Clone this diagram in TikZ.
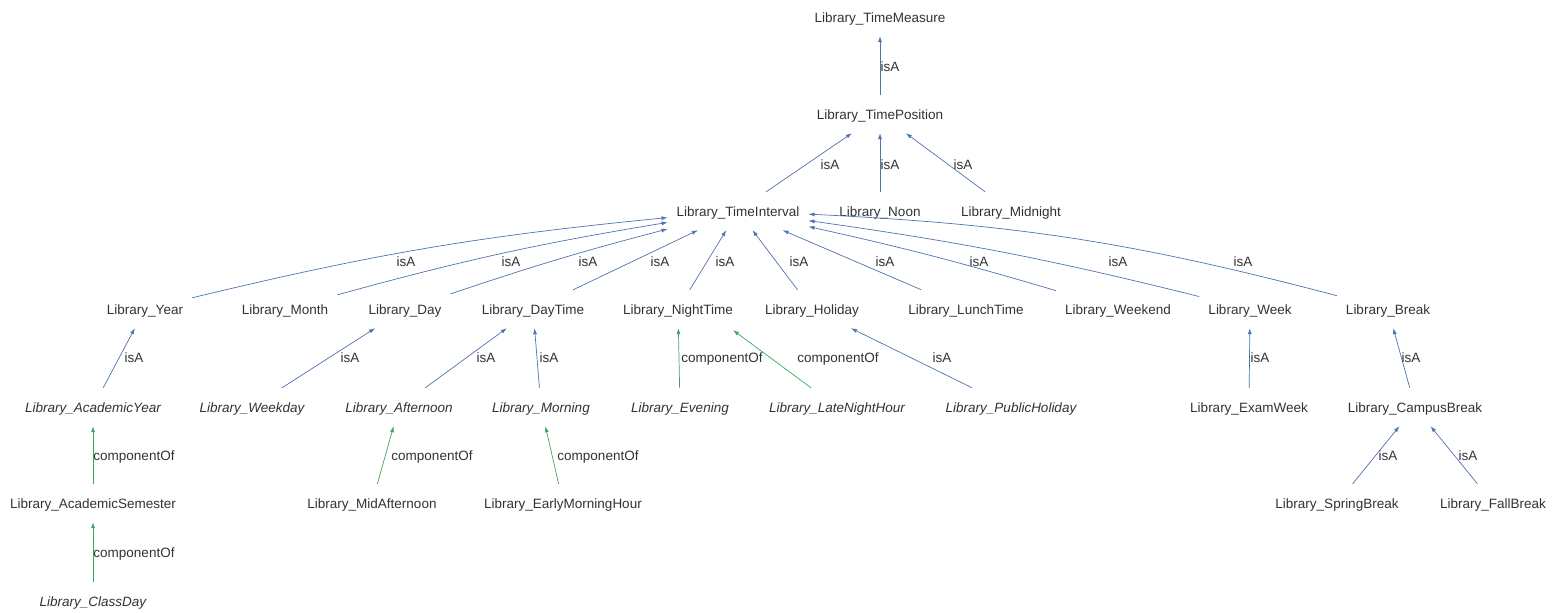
\documentclass[tikz,border=0pt]{standalone}
\usepackage{fontspec}
\setmainfont{Liberation Sans}
\usetikzlibrary{arrows.meta}
\definecolor{isablue}{RGB}{79,114,176}
\definecolor{compgreen}{RGB}{58,168,92}
\definecolor{txt}{RGB}{50,50,50}
\begin{document}
\begin{tikzpicture}[x=1pt,y=-1pt,
  every node/.style={font=\fontsize{13.5}{16}\selectfont, text=txt},
  cls/.style={inner xsep=9pt, inner ysep=0pt, minimum height=38pt, text height=12pt, text depth=1pt},
  icls/.style={cls, font=\fontsize{13.5}{16}\selectfont\itshape},
  isa/.style={draw=isablue, line width=0.7pt, -{Latex[length=6pt,width=4pt]}},
  comp/.style={draw=compgreen, line width=0.7pt, -{Latex[length=6pt,width=4pt]}},
  lbl/.style={inner sep=0pt, text height=12pt, text depth=1pt}]
\useasboundingbox (0,0) rectangle (1561,613);

% class nodes
\node[cls] (TM) at (880,17) {Library\_TimeMeasure};
\node[cls] (TP) at (880,114) {Library\_TimePosition};
\node[cls] (TI) at (738,211) {Library\_TimeInterval};
\node[cls] (Noon) at (880,211) {Library\_Noon};
\node[cls] (Midnight) at (1011,211) {Library\_Midnight};

\node[cls] (Year) at (145,309) {Library\_Year};
\node[cls] (Month) at (285,309) {Library\_Month};
\node[cls] (Day) at (405,309) {Library\_Day};
\node[cls] (DayTime) at (533,309) {Library\_DayTime};
\node[cls] (NightTime) at (678,309) {Library\_NightTime};
\node[cls] (Holiday) at (812,309) {Library\_Holiday};
\node[cls] (LunchTime) at (966,309) {Library\_LunchTime};
\node[cls] (Weekend) at (1118,309) {Library\_Weekend};
\node[cls] (Week) at (1250,309) {Library\_Week};
\node[cls] (Break) at (1388,309) {Library\_Break};

\node[icls] (AcYear) at (93,407) {Library\_AcademicYear};
\node[icls] (Weekday) at (252,407) {Library\_Weekday};
\node[icls] (Afternoon) at (399,407) {Library\_Afternoon};
\node[icls] (Morning) at (541,407) {Library\_Morning};
\node[icls] (Evening) at (680,407) {Library\_Evening};
\node[icls] (LateNight) at (837,407) {Library\_LateNightHour};
\node[icls] (PubHoliday) at (1011,407) {Library\_PublicHoliday};
\node[cls] (ExamWeek) at (1249,407) {Library\_ExamWeek};
\node[cls] (CampusBreak) at (1415,407) {Library\_CampusBreak};

\node[cls] (AcSem) at (93,503) {Library\_AcademicSemester};
\node[cls] (MidAft) at (372,503) {Library\_MidAfternoon};
\node[cls] (EarlyMorn) at (563,503) {Library\_EarlyMorningHour};
\node[cls] (Spring) at (1337,503) {Library\_SpringBreak};
\node[cls] (Fall) at (1493,503) {Library\_FallBreak};

\node[icls] (ClassDay) at (93,601) {Library\_ClassDay};

% upper hierarchy
\draw[isa] (TP) -- (TM) node[lbl] at (890,66) {isA};
\draw[isa] (TI) -- (TP) node[lbl] at (830,164) {isA};
\draw[isa] (Noon) -- (TP) node[lbl] at (890,164) {isA};
\draw[isa] (Midnight) -- (TP) node[lbl] at (963,164) {isA};

% subclasses of the time interval
\draw[isa] (Year) to[bend left=4] (TI) node[lbl] at (406,261) {isA};
\draw[isa] (Month) to[bend left=3] (TI) node[lbl] at (511,261) {isA};
\draw[isa] (Day) to[bend left=2] (TI) node[lbl] at (588,261) {isA};
\draw[isa] (DayTime) -- (TI) node[lbl] at (660,261) {isA};
\draw[isa] (NightTime) -- (TI) node[lbl] at (725,261) {isA};
\draw[isa] (Holiday) -- (TI) node[lbl] at (799,261) {isA};
\draw[isa] (LunchTime) -- (TI) node[lbl] at (885,261) {isA};
\draw[isa] (Weekend) to[bend right=2] (TI) node[lbl] at (979,261) {isA};
\draw[isa] (Week) to[bend right=3] (TI) node[lbl] at (1118,261) {isA};
\draw[isa] (Break) to[bend right=6] (TI) node[lbl] at (1243,261) {isA};

% third level
\draw[isa] (AcYear) -- (Year) node[lbl] at (134,357) {isA};
\draw[isa] (Weekday) -- (Day) node[lbl] at (350,357) {isA};
\draw[isa] (Afternoon) -- (DayTime) node[lbl] at (486,357) {isA};
\draw[isa] (Morning) -- (DayTime) node[lbl] at (549,357) {isA};
\draw[comp] (Evening) -- (NightTime) node[lbl] at (722,357) {componentOf};
\draw[comp] (LateNight) -- ([xshift=-9pt,yshift=-2pt]NightTime.south east) node[lbl] at (838,357) {componentOf};
\draw[isa] (PubHoliday) -- (Holiday) node[lbl] at (942,357) {isA};
\draw[isa] (ExamWeek) -- (Week) node[lbl] at (1260,357) {isA};
\draw[isa] (CampusBreak) -- (Break) node[lbl] at (1411,357) {isA};

% fourth and fifth level
\draw[comp] (AcSem) -- (AcYear) node[lbl] at (134,455) {componentOf};
\draw[comp] (MidAft) -- (Afternoon) node[lbl] at (432,455) {componentOf};
\draw[comp] (EarlyMorn) -- (Morning) node[lbl] at (598,455) {componentOf};
\draw[isa] (Spring) -- (CampusBreak) node[lbl] at (1388,455) {isA};
\draw[isa] (Fall) -- (CampusBreak) node[lbl] at (1468,455) {isA};
\draw[comp] (ClassDay) -- (AcSem) node[lbl] at (134,552) {componentOf};
\end{tikzpicture}
\end{document}
